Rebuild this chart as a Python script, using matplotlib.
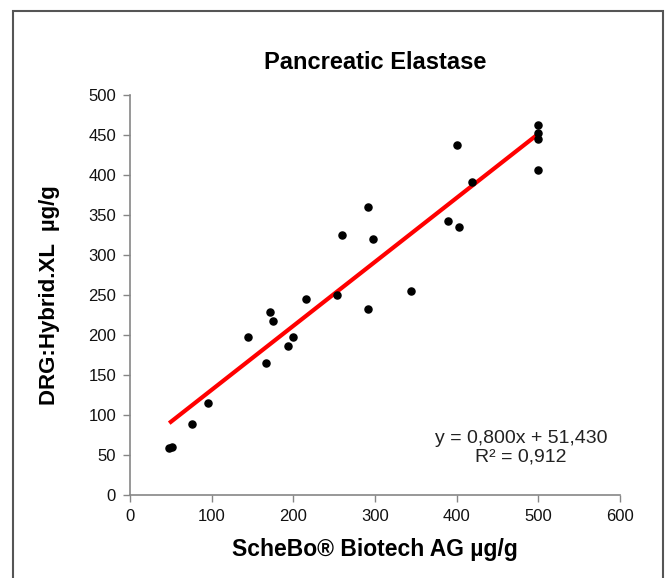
import numpy as np
import matplotlib
matplotlib.use("Agg")
import matplotlib.pyplot as plt
from matplotlib.patches import Rectangle

plt.rcParams['font.family'] = ['Liberation Sans', 'DejaVu Sans']

# ScheBo (x) vs DRG:Hybrid.XL (y), ug/g
schebo = [48, 51, 76, 95, 145, 167, 172, 175, 193, 199, 215,
          253, 260, 291, 298, 291, 344,
          400, 419, 389, 403,
          500, 500, 500, 500]
drg = [59, 60, 89, 115, 197, 165, 229, 217, 186, 197, 245,
       250, 325, 360, 320, 233, 255,
       438, 391, 343, 335,
       462, 452, 445, 406]

slope = 0.800
intercept = 51.430
r2 = 0.912

x = np.asarray(schebo)
y = np.asarray(drg)

fig = plt.figure(figsize=(6.67, 5.78), dpi=100)
ax = fig.add_axes([130/667, 1-495/578, 490/667, 400/578])

ax.scatter(x, y, s=26, color="black", zorder=3)
xfit = np.array([x.min(), x.max()])
ax.plot(xfit, slope*xfit + intercept, color="#FF0000", lw=3, zorder=2, solid_capstyle="butt")

ax.set_xlim(0, 600)
ax.set_ylim(0, 500)
ax.set_xticks(np.arange(0, 601, 100))
ax.set_yticks(np.arange(0, 501, 50))

for s in ["top", "right"]:
    ax.spines[s].set_visible(False)
for s in ["left", "bottom"]:
    ax.spines[s].set_color("#868686")
    ax.spines[s].set_linewidth(1.2)
ax.tick_params(direction="out", length=5, width=1, color="#868686",
               labelsize=12, labelcolor="#111111", pad=5)

ax.set_title("Pancreatic Elastase", fontsize=17, fontweight="bold", pad=19)
ax.set_xlabel("ScheBo® Biotech AG µg/g", fontsize=16.5, fontweight="bold", labelpad=10)
ax.set_ylabel("DRG:Hybrid.XL  µg/g", fontsize=16, fontweight="bold", labelpad=20)

ax.text(479, 59, "y = 0,800x + 51,430\nR² = 0,912", fontsize=14, ha="center",
        va="center", linespacing=1.05, color="#222222")

# frame around the chart
fig.patches.append(Rectangle((13/667, -0.05), 650/667, 1.05 - 11/578,
                             transform=fig.transFigure, fill=False,
                             edgecolor="#555555", lw=1.5))

fig.savefig("out.png", dpi=100)
